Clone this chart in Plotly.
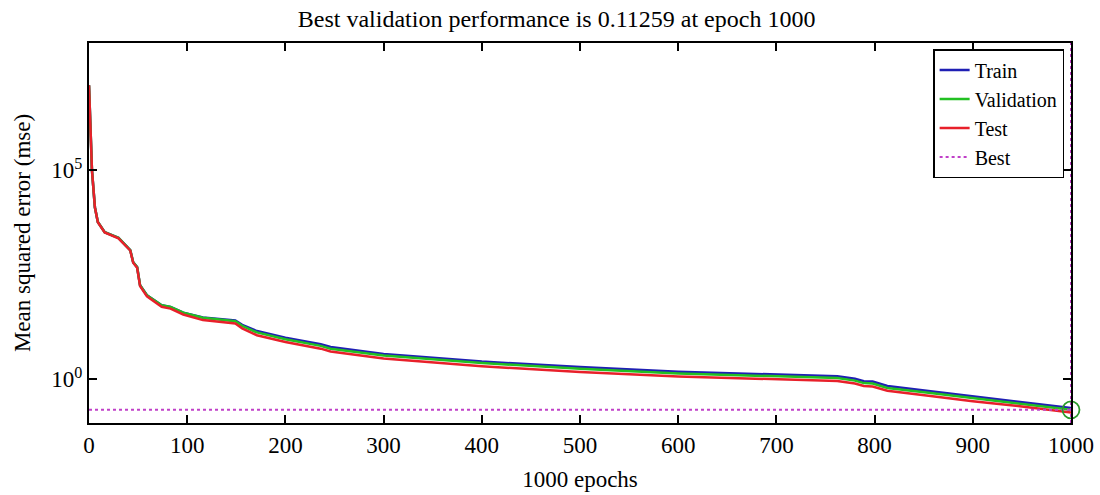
import plotly.graph_objects as go

epochs = [0, 3, 6, 9, 16, 30, 42, 45, 49, 52, 59, 74, 83, 93, 96, 116, 149, 156, 171, 200,
          236, 246, 273, 300, 400, 500, 600, 700, 762, 780, 789, 798, 813, 857, 900, 950, 1000]

train = [1.07e7, 1e5, 13000, 5750, 3300, 2400, 1230, 630, 480, 178, 102, 59, 54, 43, 39, 30,
         25.5, 20, 14.2, 9.9, 6.9, 5.9, 4.8, 4.05, 2.65, 1.96, 1.52, 1.29, 1.18, 1.03, 0.9,
         0.88, 0.69, 0.52, 0.395, 0.29, 0.205]

validation = [1.07e7, 1e5, 13000, 5750, 3300, 2400, 1230, 630, 480, 178, 102, 59, 54, 43, 39,
              29.5, 24.5, 19, 13.2, 9.1, 6.3, 5.4, 4.4, 3.7, 2.45, 1.78, 1.38, 1.17, 1.07,
              0.93, 0.81, 0.79, 0.62, 0.47, 0.355, 0.263, 0.186]

test = [1.07e7, 1e5, 13000, 5700, 3250, 2350, 1200, 610, 465, 170, 96, 54, 49, 39, 35.5, 26,
        21.5, 16.5, 11.3, 7.8, 5.4, 4.6, 3.75, 3.15, 2.05, 1.5, 1.17, 0.99, 0.91, 0.79, 0.69,
        0.67, 0.53, 0.40, 0.30, 0.225, 0.16]

best_epoch = 1000
best_value = 0.186
x_ticks = [0, 100, 200, 300, 400, 500, 600, 700, 800, 900, 1000]
y_tickvals = [1, 1e5]
y_ticktext = ["10<sup>0</sup>", "10<sup>5</sup>"]
y_range_log = [-1.045, 8.04]

FONT = "Liberation Serif"

fig = go.Figure()
fig.add_trace(go.Scatter(x=epochs, y=train, mode="lines", name="Train",
                         line=dict(color="#1f1fb4", width=2.5)))
fig.add_trace(go.Scatter(x=epochs, y=validation, mode="lines", name="Validation",
                         line=dict(color="#22c022", width=2.5)))
fig.add_trace(go.Scatter(x=epochs, y=test, mode="lines", name="Test",
                         line=dict(color="#e8202a", width=2.5)))
fig.add_trace(go.Scatter(x=[0, best_epoch], y=[best_value, best_value], mode="lines",
                         name="Best", line=dict(color="#c040c8", width=2, dash="dot")))
fig.add_trace(go.Scatter(x=[best_epoch, best_epoch], y=[10 ** y_range_log[0], 10 ** y_range_log[1]],
                         mode="lines", showlegend=False,
                         line=dict(color="#c040c8", width=2, dash="dot")))
fig.add_trace(go.Scatter(x=[best_epoch], y=[best_value], mode="markers", showlegend=False,
                         cliponaxis=False,
                         marker=dict(symbol="circle-open", size=17, color="#2a9a2a",
                                     line=dict(width=1.8, color="#2a9a2a"))))

fig.update_layout(
    width=1100, height=495,
    margin=dict(l=89, r=29, t=43, b=72, autoexpand=False),
    paper_bgcolor="white", plot_bgcolor="white",
    font=dict(family=FONT, size=22, color="black"),
    title=dict(text="Best validation performance is 0.11259 at epoch 1000",
               x=0.506, xref="container", xanchor="center",
               y=0.962, yref="container", yanchor="middle",
               font=dict(family=FONT, size=24, color="black")),
    showlegend=True,
    legend=dict(x=0.993, y=0.984, xanchor="right", yanchor="top",
                bgcolor="white", bordercolor="black", borderwidth=1.5,
                font=dict(family=FONT, size=20, color="black"),
                itemwidth=30, tracegroupgap=0),
    xaxis=dict(range=[0, 1000], tickvals=x_ticks, ticks="inside", ticklen=8,
               tickwidth=2, tickcolor="black", showline=True, linecolor="black",
               linewidth=2, mirror="ticks", showgrid=False, zeroline=False,
               automargin=False,
               tickfont=dict(family=FONT, size=23),
               title=dict(text="1000 epochs", font=dict(family=FONT, size=23), standoff=14)),
    yaxis=dict(type="log", range=y_range_log, tickvals=y_tickvals, ticktext=y_ticktext,
               ticks="inside", ticklen=8, tickwidth=2, tickcolor="black",
               showline=True, linecolor="black", linewidth=2, mirror="ticks",
               automargin=False,
               showgrid=False, zeroline=False, tickfont=dict(family=FONT, size=23),
               title=dict(text="Mean squared error (mse)", font=dict(family=FONT, size=23),
                          standoff=14)),
)

fig.write_html("out.html")
